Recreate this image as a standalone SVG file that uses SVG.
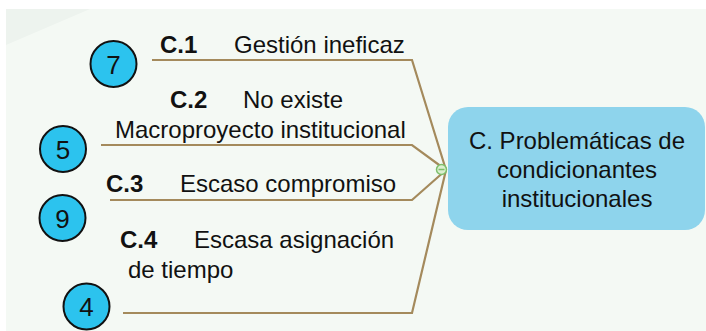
<svg xmlns="http://www.w3.org/2000/svg" width="706" height="331" viewBox="0 0 706 331">
<style>
.t{font-family:"Liberation Sans",Arial,sans-serif;font-size:24px;fill:#111}
.b{font-weight:bold}
.num{font-family:"Liberation Sans",Arial,sans-serif;font-size:26px;fill:#111;text-anchor:middle}
.c{fill:#2cc3ee;stroke:#111;stroke-width:2}
.ln{fill:none;stroke:#a48a5c;stroke-width:2.2}
</style>
<rect x="0" y="0" width="706" height="331" fill="#ffffff"/>
<rect x="6" y="9" width="700" height="322" fill="#f4f9f4"/>
<polygon points="6,9 90,9 6,45" fill="#edf3ee"/>
<g id="connectors">
<polyline class="ln" points="152,60 412,60 446,170"/>
<polyline class="ln" points="101,145 412,145 446,170"/>
<polyline class="ln" points="110,200 412,200 446,170"/>
<polyline class="ln" points="123,313 412,313 446,170"/>
</g>
<g id="root">
<rect x="448" y="107" width="257" height="123" rx="20" fill="#8ed4ec"/>
<text class="t" x="577" y="149" text-anchor="middle">C. Problemáticas de</text>
<text class="t" x="577" y="178" text-anchor="middle">condicionantes</text>
<text class="t" x="577" y="207" text-anchor="middle">institucionales</text>
<circle cx="441.5" cy="169.5" r="5" fill="#dcefd0" stroke="#7cbf6a" stroke-width="1.5"/>
<line x1="438.5" y1="169.5" x2="444.5" y2="169.5" stroke="#7cbf6a" stroke-width="1.5"/>
</g>
<g id="c1">
<text class="t" x="160" y="53"><tspan class="b">C.1</tspan><tspan x="234">Gestión ineficaz</tspan></text>
</g>
<g id="c2">
<text class="t" x="170" y="108"><tspan class="b">C.2</tspan><tspan x="243">No existe</tspan></text>
<text class="t" x="115" y="138">Macroproyecto institucional</text>
</g>
<g id="c3">
<text class="t" x="106" y="192"><tspan class="b">C.3</tspan><tspan x="180">Escaso compromiso</tspan></text>
</g>
<g id="c4">
<text class="t" x="120" y="248"><tspan class="b">C.4</tspan><tspan x="194">Escasa asignación</tspan></text>
<text class="t" x="128" y="278">de tiempo</text>
</g>
<g id="n7"><circle class="c" cx="113.5" cy="64" r="23"/><text class="num" x="113.5" y="73.5">7</text></g>
<g id="n5"><circle class="c" cx="63" cy="149" r="23"/><text class="num" x="63" y="158.5">5</text></g>
<g id="n9"><circle class="c" cx="62.5" cy="218" r="23"/><text class="num" x="62.5" y="227.5">9</text></g>
<g id="n4"><circle class="c" cx="86.5" cy="306.5" r="23"/><text class="num" x="86.5" y="316">4</text></g>
</svg>
